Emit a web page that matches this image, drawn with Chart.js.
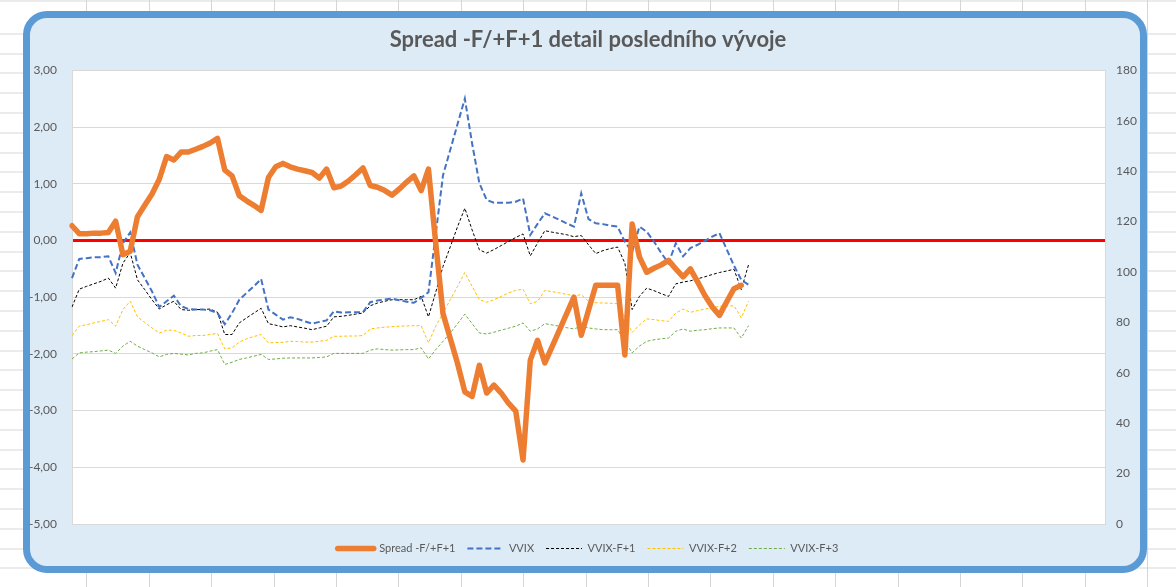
<!DOCTYPE html>
<html>
<head>
<meta charset="utf-8">
<script src="https://cdn.jsdelivr.net/npm/chart.js@4.4.1/dist/chart.umd.min.js"></script>
<style>
  html, body { margin: 0; padding: 0; }
  body {
    width: 1176px; height: 587px; overflow: hidden; position: relative;
    background-color: #fff;
    background-image:
      repeating-linear-gradient(to right, transparent 0 61.4px, #d6d6d6 61.4px 62.4px),
      repeating-linear-gradient(to bottom, transparent 0 18.8px, #d6d6d6 18.8px 19.8px);
    background-position: 25px 0, 0 14.5px;
  }
  #frame {
    position: absolute; left: 23px; top: 11px; width: 1124px; height: 562px;
    box-sizing: border-box; border: 7px solid #5B9BD5; border-radius: 24px;
    background: #DDEBF7;
  }
  #c { position: absolute; left: 0; top: 0; }
</style>
</head>
<body>
<div id="frame"></div>
<canvas id="c" width="1176" height="587"></canvas>
<script>
// Spread -F/+F+1 (left axis) and VVIX term structure (right axis)
const categories = Array.from({ length: 143 }, (_, i) => String(i + 1));

const spread = [
  0.26, 0.12, 0.12, 0.13, 0.13, 0.14, 0.34, -0.25, -0.19, 0.42,
  0.62, 0.82, 1.08, 1.48, 1.42, 1.56, 1.56, 1.61, 1.66, 1.72,
  1.80, 1.24, 1.14, 0.79, 0.70, 0.62, 0.53, 1.11, 1.30, 1.36,
  1.30, 1.26, 1.23, 1.20, 1.10, 1.26, 0.93, 0.96, 1.05, 1.16,
  1.28, 0.97, 0.94, 0.88, 0.80, 0.91, 1.03, 1.14, 0.88, 1.26,
  -0.05, -1.29, -1.73, -2.17, -2.67, -2.75, -2.20, -2.69, -2.55, -2.69,
  -2.87, -3.01, -3.87, -2.11, -1.76, -2.16, -1.87, -1.58, -1.29, -1.00,
  -1.67, -1.23, -0.79, -0.79, -0.79, -0.79, -2.02, 0.29, -0.29, -0.56,
  -0.49, -0.43, -0.35, -0.50, -0.64, -0.50, -0.73, -0.97, -1.17, -1.32,
  -1.08, -0.85, -0.79
];

const vvix = [
  97.6, 105.2, 105.5, 105.8, 105.9, 106.2, 99.6, 111.4, 115.7, 102.9,
  97.6, 92.3, 86.1, 88.4, 90.6, 86.4, 85.3, 85.1, 85.1, 84.8,
  83.7, 79.3, 83.7, 89.0, 91.7, 94.3, 97.2, 85.1, 83.1, 81.1,
  82.0, 81.4, 80.4, 79.5, 80.2, 80.8, 84.4, 83.9, 84.0, 84.0,
  84.1, 88.0, 88.7, 89.1, 89.4, 88.8, 88.2, 87.8, 89.7, 92.0,
  115.0, 138.4, 148.5, 158.7, 168.8, 151.0, 135.2, 128.6, 127.5, 127.5,
  127.5, 127.9, 129.2, 114.7, 119.1, 123.3, 122.0, 120.7, 119.3, 118.0,
  131.2, 121.0, 119.3, 119.0, 118.4, 118.0, 112.0, 108.0, 118.0, 116.0,
  112.1, 107.5, 103.5, 111.4, 106.2, 109.5, 110.8, 112.4, 114.0, 115.4,
  109.0, 102.5, 96.9, 94.9
];

const vvixF1 = [
  86.1, 93.2, 94.3, 95.3, 96.3, 97.6, 93.6, 103.5, 107.7, 96.9,
  93.0, 89.0, 85.3, 87.0, 88.4, 85.1, 84.8, 85.1, 85.1, 85.3,
  84.0, 75.2, 75.2, 79.8, 81.8, 83.7, 85.6, 79.5, 78.9, 78.2,
  78.7, 78.2, 77.7, 77.1, 77.8, 78.5, 82.2, 82.4, 82.8, 83.3,
  83.7, 86.6, 87.7, 88.4, 89.0, 89.0, 89.0, 89.0, 90.3, 82.2,
  92.0, 102.2, 110.0, 118.0, 125.3, 116.7, 108.8, 107.5, 108.9, 110.5,
  112.1, 113.7, 115.1, 106.4, 111.5, 116.4, 115.8, 115.3, 114.8, 114.0,
  114.5, 110.8, 107.3, 108.5, 109.3, 109.9, 103.5, 85.1, 90.3, 93.6,
  92.6, 91.4, 90.3, 95.3, 96.0, 96.5, 97.3, 98.1, 99.0, 99.8,
  100.4, 101.1, 93.0, 102.9
];

const vvixF2 = [
  74.8, 78.5, 79.1, 79.8, 80.4, 81.1, 78.5, 85.1, 88.4, 82.2,
  80.0, 77.8, 75.8, 76.9, 76.9, 75.8, 74.5, 74.8, 74.8, 75.2,
  75.6, 69.5, 69.9, 72.2, 73.5, 74.4, 75.2, 71.9, 72.0, 72.1,
  72.5, 72.4, 72.2, 72.2, 72.5, 72.9, 74.5, 74.5, 74.6, 74.6,
  74.8, 77.4, 77.8, 78.1, 78.3, 78.5, 78.6, 78.7, 78.7, 71.9,
  78.5, 83.7, 89.0, 94.3, 99.8, 94.3, 89.0, 88.0, 89.0, 90.3,
  91.7, 92.7, 93.2, 87.4, 88.4, 92.7, 92.2, 91.7, 91.1, 90.6,
  91.0, 88.4, 87.8, 87.7, 87.6, 87.4, 82.0, 76.0, 79.0, 81.4,
  81.1, 80.7, 80.4, 83.7, 85.3, 84.0, 84.7, 85.3, 85.8, 86.4,
  86.5, 86.6, 81.8, 88.4
];

const vvixF3 = [
  65.5, 67.9, 68.2, 68.4, 68.7, 69.0, 67.7, 70.6, 72.5, 70.6,
  69.2, 67.9, 66.3, 67.3, 67.7, 67.4, 67.1, 67.7, 67.9, 68.6,
  69.2, 63.3, 64.2, 65.3, 65.9, 66.6, 67.3, 65.3, 65.5, 65.8,
  65.9, 65.9, 65.9, 65.9, 66.1, 66.3, 67.7, 67.7, 67.7, 67.7,
  67.7, 69.0, 69.5, 69.2, 69.0, 69.1, 69.2, 69.2, 69.9, 65.5,
  69.2, 72.5, 75.8, 79.5, 83.3, 79.5, 75.8, 75.4, 76.1, 76.9,
  77.7, 78.5, 79.8, 76.5, 77.4, 79.5, 79.0, 78.5, 77.9, 77.4,
  78.5, 77.8, 77.4, 77.1, 77.1, 77.1, 72.5, 67.9, 70.6, 72.5,
  73.1, 73.5, 73.8, 76.5, 77.4, 76.5, 76.9, 77.1, 77.5, 77.8,
  77.8, 77.8, 73.8, 78.7
];

const leftTicks = { min: -5, max: 3, step: 1 };
const rightTicks = { min: 0, max: 180, step: 20 };

Chart.defaults.font.family = 'Lato, "Open Sans", sans-serif';
Chart.defaults.color = '#595959';

// white plot area like the Excel chart
const plotBg = {
  id: 'plotBg',
  beforeDraw(chart) {
    const a = chart.chartArea;
    const ctx = chart.ctx;
    ctx.save();
    ctx.fillStyle = '#ffffff';
    ctx.fillRect(a.left, a.top, a.right - a.left, a.bottom - a.top);
    ctx.restore();
  }
};

const myChart = new Chart(document.getElementById('c'), {
  type: 'line',
  data: {
    labels: categories,
    datasets: [
      {
        label: 'Spread -F/+F+1',
        data: spread,
        yAxisID: 'y',
        borderColor: '#ED7D31',
        backgroundColor: '#ED7D31',
        borderWidth: 5.5,
        borderJoinStyle: 'round',
        borderCapStyle: 'round',
        order: 0
      },
      {
        label: 'VVIX',
        data: vvix,
        yAxisID: 'y1',
        borderColor: '#4472C4',
        backgroundColor: '#4472C4',
        borderWidth: 2,
        borderDash: [6, 3],
        order: 1
      },
      {
        label: 'VVIX-F+1',
        data: vvixF1,
        yAxisID: 'y1',
        borderColor: '#000000',
        backgroundColor: '#000000',
        borderWidth: 1,
        borderDash: [3, 2],
        order: 2
      },
      {
        label: 'VVIX-F+2',
        data: vvixF2,
        yAxisID: 'y1',
        borderColor: '#FFC000',
        backgroundColor: '#FFC000',
        borderWidth: 1,
        borderDash: [3, 2],
        order: 3
      },
      {
        label: 'VVIX-F+3',
        data: vvixF3,
        yAxisID: 'y1',
        borderColor: '#70AD47',
        backgroundColor: '#70AD47',
        borderWidth: 1,
        borderDash: [3, 2],
        order: 4
      }
    ]
  },
  options: {
    responsive: false,
    animation: false,
    devicePixelRatio: 1,
    layout: { padding: { left: 0, right: 0, top: 0, bottom: 23 } },
    elements: {
      point: { radius: 0, hoverRadius: 0 },
      line: { tension: 0 }
    },
    plugins: {
      title: {
        display: true,
        text: 'Spread -F/+F+1 detail posledního vývoje',
        color: '#595959',
        font: { size: 22, weight: 'bold' },
        padding: { top: 27, bottom: 17 }
      },
      legend: {
        position: 'bottom',
        labels: {
          usePointStyle: true,
          pointStyleWidth: 36,
          padding: 12,
          color: '#595959',
          font: { size: 11 },
          // legend samples show each series' own line width and dash
          generateLabels: (chart) => chart.data.datasets.map((ds, i) => ({
            text: ds.label,
            datasetIndex: i,
            hidden: false,
            fontColor: '#595959',
            fillStyle: ds.borderColor,
            strokeStyle: ds.borderColor,
            lineWidth: ds.borderWidth,
            lineDash: ds.borderDash || [],
            lineCap: ds.borderCapStyle || 'butt',
            pointStyle: 'line'
          }))
        }
      },
      tooltip: { enabled: false }
    },
    scales: {
      x: {
        offset: false,
        grid: { display: false, drawTicks: false },
        border: { display: true, color: '#D9D9D9' },
        ticks: { display: false },
        afterFit: (scale) => { scale.height = 7; }
      },
      y: {
        position: 'left',
        min: leftTicks.min,
        max: leftTicks.max,
        ticks: {
          stepSize: leftTicks.step,
          padding: 15,
          font: { size: 12 },
          callback: (v) => v.toFixed(2).replace('.', ',')
        },
        grid: {
          drawTicks: false,
          color: (ctx) => ctx.tick && ctx.tick.value === 0 ? '#FF0000' : '#D9D9D9',
          lineWidth: (ctx) => ctx.tick && ctx.tick.value === 0 ? 3 : 1
        },
        border: { display: true, color: '#D9D9D9' },
        afterFit: (scale) => { scale.width = 72; }
      },
      y1: {
        position: 'right',
        min: rightTicks.min,
        max: rightTicks.max,
        ticks: {
          stepSize: rightTicks.step,
          padding: 11,
          font: { size: 12 }
        },
        grid: { display: false, drawTicks: false },
        border: { display: true, color: '#D9D9D9' },
        afterFit: (scale) => { scale.width = 71; }
      }
    }
  },
  plugins: [plotBg]
});
</script>
</body>
</html>
